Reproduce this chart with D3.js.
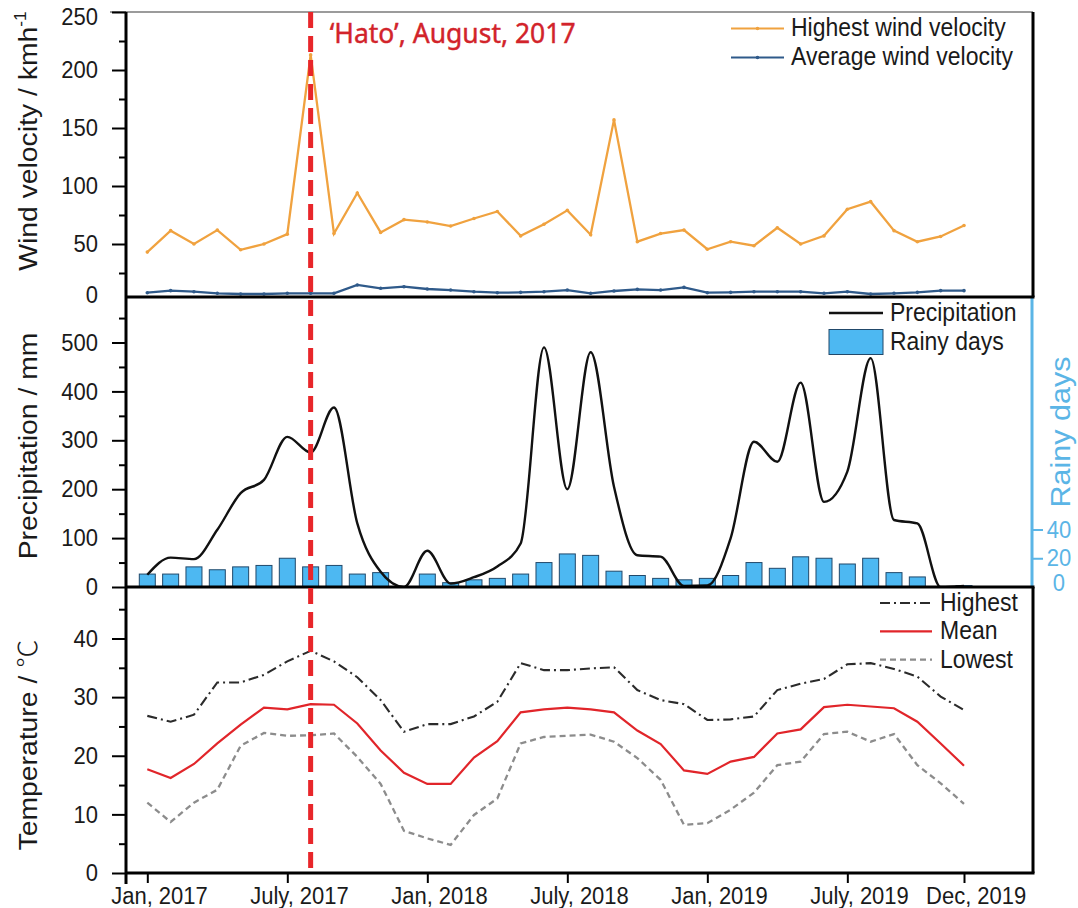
<!DOCTYPE html>
<html>
<head>
<meta charset="utf-8">
<script src="https://cdn.jsdelivr.net/npm/d3@7"></script>
<style>
  html, body { margin: 0; padding: 0; background: #fff; }
  svg { display: block; font-family: "Liberation Sans", Arial, Helvetica, sans-serif; }
</style>
</head>
<body>
<svg id="chart" width="1078" height="908"></svg>
<script>
// ---- Monthly data, Jan 2017 – Dec 2019 (36 months) ----
const monthIndex = d3.range(36);
const tickMonths = [0, 6, 12, 18, 24, 30, 35];
const tickLabels = ["Jan, 2017", "July, 2017", "Jan, 2018", "July, 2018", "Jan, 2019", "July, 2019", "Dec, 2019"];

// wind velocity, km/h
const windHighest = [43, 61.5, 50, 62, 45, 50, 58.5, 213, 59, 94, 60, 71, 69, 65.5, 72, 78, 57, 67, 79, 58,
                     157, 52, 59, 62, 45.5, 52, 48.5, 64, 50, 57, 80, 86.5, 61.5, 52, 56.5, 66];
const windAverage = [8, 9.8, 8.9, 7.5, 6.9, 6.9, 7.5, 7.5, 7.5, 14.7, 11.8, 13.2, 11.2, 10.3, 8.9, 8, 8.3, 8.9, 10.3, 7.5,
                     9.5, 10.9, 10.3, 12.6, 8, 8.3, 8.9, 8.9, 8.9, 7.5, 8.9, 6.9, 7.5, 8.3, 9.8, 9.8];

// precipitation, mm, and number of rainy days
const precipitation = [25, 60, 57, 117, 192, 219, 307, 275, 367, 130, 31, 0, 74, 7, 20, 42, 89, 490, 200, 480,
                       205, 65, 62, 2, 3, 100, 297, 256, 418, 174, 236, 468, 137, 130, 0, 2];
const rainyDays = [9, 9, 14, 12, 14, 15, 20, 14, 15, 9, 10, 0, 9, 3, 5, 6, 9, 17, 23, 22,
                   11, 8, 6, 5, 6, 8, 17, 13, 21, 20, 16, 20, 10, 7, 0, 1];

// temperature, °C
const tempHighest = [26.8, 25.8, 27, 32.5, 32.5, 33.8, 36.1, 37.9, 36.1, 33.4, 29.5, 24.1, 25.4, 25.4, 26.7, 29.2, 35.8, 34.6, 34.6, 34.9,
                     35.1, 31.2, 29.5, 28.8, 26.1, 26.2, 26.7, 31.2, 32.3, 33.1, 35.6, 35.8, 34.8, 33.5, 30.1, 27.8];
const tempMean = [17.7, 16.2, 18.6, 22.1, 25.3, 28.2, 27.9, 28.8, 28.7, 25.5, 20.9, 17.1, 15.2, 15.2, 19.7, 22.5, 27.4, 27.9, 28.2, 27.9,
                  27.4, 24.3, 22, 17.5, 16.9, 19, 19.8, 23.8, 24.5, 28.3, 28.7, 28.4, 28.1, 25.8, 22.1, 18.3];
const tempLowest = [12, 8.7, 12, 14.2, 21.7, 23.9, 23.4, 23.5, 23.8, 19.8, 15.2, 7.2, 5.9, 4.8, 9.9, 12.7, 22.1, 23.2, 23.4, 23.6,
                    22.4, 19.6, 15.9, 8.2, 8.5, 10.8, 13.7, 18.4, 19, 23.7, 24.1, 22.4, 23.7, 18.4, 15.3, 11.8];

// typhoon event marker
const eventMonth = 7;
const eventLabel = "\u2018Hato\u2019, August, 2017";

// ---- layout ----
const svg = d3.select("#chart");
const left = 126, right = 1033;
const topY0 = 12, topY1 = 297, midY1 = 587, botY1 = 873;
const FONT = '"Liberation Sans", Arial, Helvetica, sans-serif';
const TALL = 1.09;   // glyphs are drawn slightly taller than wide

const x = d3.scaleLinear().domain([0, 35]).range([147.3, 964]);
const yWind = d3.scaleLinear().domain([0, 250]).range([302, 12]);
const yPrec = d3.scaleLinear().domain([0, 500]).range([587, 342.5]);
const yRain = d3.scaleLinear().domain([0, 40]).range([587, 529.5]);
const yTemp = d3.scaleLinear().domain([0, 40]).range([873, 638.5]);

const colors = {
  windHigh: "#f0a23f", windAvg: "#2f5a8a",
  precip: "#111", rainFill: "#4db8f2", rainStroke: "#21496b", rainAxis: "#5bb5e6",
  tHigh: "#2b2b2b", tMean: "#e1252a", tLow: "#8c8c8c", event: "#e8262a", eventText: "#d2232a"
};

// stretch horizontal text vertically about its own y attribute
function stretchY(sel) {
  sel.each(function () {
    const t = d3.select(this);
    const yy = +t.attr("y") || 0;
    t.attr("transform", `translate(0,${yy * (1 - TALL)}) scale(1,${TALL})`);
  });
}

// clip regions per panel
const defs = svg.append("defs");
[["clipTop", topY0, topY1], ["clipMid", topY1, midY1], ["clipBot", midY1, botY1]].forEach(([id, y0, y1]) => {
  defs.append("clipPath").attr("id", id).append("rect")
    .attr("x", left).attr("y", y0).attr("width", right - left).attr("height", y1 - y0);
});

// ---- middle panel: rainy-day bars and precipitation curve ----
const gMid = svg.append("g").attr("clip-path", "url(#clipMid)");
const barW = 16;
gMid.selectAll("rect.rain").data(monthIndex.filter(i => rainyDays[i] > 0)).join("rect")
  .attr("class", "rain")
  .attr("x", i => x(i) - barW / 2)
  .attr("y", i => yRain(rainyDays[i]))
  .attr("width", barW)
  .attr("height", i => yRain(0) - yRain(rainyDays[i]))
  .attr("fill", colors.rainFill)
  .attr("stroke", colors.rainStroke)
  .attr("stroke-width", 1);

const precLine = d3.line().x(i => x(i)).y(i => yPrec(precipitation[i])).curve(d3.curveMonotoneX);
gMid.append("path").datum(monthIndex).attr("d", precLine)
  .attr("fill", "none").attr("stroke", colors.precip).attr("stroke-width", 2.4);

// ---- top panel: wind velocity ----
const gTop = svg.append("g").attr("clip-path", "url(#clipTop)");
[[windHighest, colors.windHigh], [windAverage, colors.windAvg]].forEach(([vals, c]) => {
  gTop.append("path").datum(monthIndex)
    .attr("d", d3.line().x(i => x(i)).y(i => yWind(vals[i])))
    .attr("fill", "none").attr("stroke", c).attr("stroke-width", 2.3);
  gTop.selectAll(null).data(monthIndex).join("circle")
    .attr("cx", i => x(i)).attr("cy", i => yWind(vals[i])).attr("r", 1.8).attr("fill", c);
});

// ---- bottom panel: temperature ----
const gBot = svg.append("g").attr("clip-path", "url(#clipBot)");
const tempSeries = [
  { vals: tempHighest, color: colors.tHigh, dash: "10,4,2,4", width: 2.1, label: "Highest" },
  { vals: tempMean, color: colors.tMean, dash: null, width: 2.2, label: "Mean" },
  { vals: tempLowest, color: colors.tLow, dash: "6,4", width: 2.3, label: "Lowest" }
];
tempSeries.forEach(s => {
  gBot.append("path").datum(monthIndex)
    .attr("d", d3.line().x(i => x(i)).y(i => yTemp(s.vals[i])))
    .attr("fill", "none").attr("stroke", s.color).attr("stroke-width", s.width)
    .attr("stroke-dasharray", s.dash);
});

// ---- frames ----
const frame = svg.append("g");
frame.append("line").attr("x1", 110).attr("x2", right).attr("y1", topY0).attr("y2", topY0)
  .attr("stroke", "#7a7a7a").attr("stroke-width", 1.5);
frame.append("line").attr("x1", right).attr("x2", right).attr("y1", topY0).attr("y2", topY1)
  .attr("stroke", "#000").attr("stroke-width", 3);
frame.append("line").attr("x1", right - 1).attr("x2", right - 1).attr("y1", topY1).attr("y2", midY1)
  .attr("stroke", colors.rainAxis).attr("stroke-width", 3);
frame.append("line").attr("x1", right).attr("x2", right).attr("y1", midY1).attr("y2", botY1)
  .attr("stroke", "#000").attr("stroke-width", 3);
[topY1, midY1, botY1].forEach(yy => {
  frame.append("line").attr("x1", left).attr("x2", right + 1.5).attr("y1", yy).attr("y2", yy)
    .attr("stroke", "#000").attr("stroke-width", 3);
});
frame.append("line").attr("x1", left).attr("x2", left).attr("y1", topY0).attr("y2", botY1 + 11)
  .attr("stroke", "#000").attr("stroke-width", 3);

// ---- axes ----
function styleAxis(g, size) {
  g.select(".domain").remove();
  g.selectAll(".tick line").attr("stroke", "#000").attr("stroke-width", 2);
  g.selectAll(".tick text").attr("font-size", size).attr("fill", "#1a1a1a").attr("font-family", FONT);
}
function leftAxis(scale, major, minor) {
  const gMaj = svg.append("g").attr("transform", `translate(${left},0)`)
    .call(d3.axisLeft(scale).tickValues(major).tickSize(14).tickPadding(14).tickFormat(d3.format("d")));
  styleAxis(gMaj, 22);
  const gMin = svg.append("g").attr("transform", `translate(${left},0)`)
    .call(d3.axisLeft(scale).tickValues(minor).tickSize(7).tickFormat(""));
  styleAxis(gMin, 22);
  stretchY(gMaj.selectAll(".tick text"));
  return gMaj;
}
const windAxis = leftAxis(yWind, [0, 50, 100, 150, 200, 250], [25, 75, 125, 175, 225]);
// the zero of the wind panel sits just below the panel edge; the top label sits just under the frame
windAxis.selectAll(".tick").filter(d => d === 0).each(function () {
  d3.select(this).select("line").remove();
  d3.select(this).select("text").attr("dy", "0.0em");
});
windAxis.selectAll(".tick").filter(d => d === 250).select("text").attr("dy", "0.5em");
leftAxis(yPrec, [0, 100, 200, 300, 400, 500], [50, 150, 250, 350, 450, 550]);
leftAxis(yTemp, [0, 10, 20, 30, 40], [5, 15, 25, 35, 45]);

// rainy-days axis on the right
const rainAxis = svg.append("g").attr("transform", `translate(${right},0)`)
  .call(d3.axisRight(yRain).tickValues([0, 20, 40]).tickSize(10).tickPadding(14).tickFormat(d3.format("d")));
rainAxis.select(".domain").remove();
rainAxis.selectAll(".tick line").attr("stroke", colors.rainAxis).attr("stroke-width", 2)
  .attr("opacity", d => d === 0 ? 0 : 1);
rainAxis.selectAll(".tick text").attr("font-size", 22).attr("fill", colors.rainAxis)
  .attr("text-anchor", "middle").attr("x", 26).attr("dy", d => d === 0 ? "0.15em" : "0.32em");
stretchY(rainAxis.selectAll(".tick text"));

// time axis
const halfMonth = (x(1) - x(0)) / 2;
const xAxis = svg.append("g").attr("transform", `translate(0,${botY1})`)
  .call(d3.axisBottom(x).tickValues(tickMonths).tickSize(10).tickPadding(4)
    .tickFormat((d, i) => tickLabels[i]));
styleAxis(xAxis, 22);
xAxis.selectAll(".tick text").attr("dx", halfMonth);
stretchY(xAxis.selectAll(".tick text"));

// ---- event marker ----
svg.append("line")
  .attr("x1", x(eventMonth)).attr("x2", x(eventMonth))
  .attr("y1", topY0).attr("y2", botY1)
  .attr("stroke", colors.event).attr("stroke-width", 5).attr("stroke-dasharray", "16,8");
svg.append("text").attr("x", x(eventMonth) + 19).attr("y", 43)
  .attr("font-family", '"Noto Sans", "Open Sans", sans-serif').attr("font-size", 26.5)
  .attr("fill", colors.eventText).attr("stroke", colors.eventText).attr("stroke-width", 0.4)
  .text(eventLabel);

// ---- axis titles ----
function yTitle(xPos, yPos, color, size) {
  return svg.append("text").attr("transform", `translate(${xPos},${yPos}) rotate(-90) scale(${TALL},1)`)
    .attr("text-anchor", "middle").attr("font-size", size).attr("fill", color).attr("font-family", FONT);
}
const wt = yTitle(37, 141, "#1a1a1a", 26);
wt.append("tspan").text("Wind velocity / kmh");
wt.append("tspan").attr("font-size", 16).attr("dy", -11).text("-1");
yTitle(37, 446, "#1a1a1a", 26).text("Precipitation / mm");
const tt = yTitle(37, 745, "#1a1a1a", 26);
tt.append("tspan").text("Temperature / ");
tt.append("tspan").attr("font-family", '"Noto Sans CJK SC", sans-serif').attr("font-weight", 300).text("\u2103");
yTitle(1070, 432, colors.rainAxis, 28).text("Rainy days");

// ---- legends ----
function legendText(xPos, yPos, label) {
  const t = svg.append("text").attr("x", xPos).attr("y", yPos + 8)
    .attr("font-size", 23).attr("fill", "#1a1a1a").attr("font-family", FONT).text(label);
  stretchY(t);
}
const windLegend = [
  { label: "Highest wind velocity", color: colors.windHigh, y: 28.5 },
  { label: "Average wind velocity", color: colors.windAvg, y: 57.5 }
];
windLegend.forEach(d => {
  svg.append("line").attr("x1", 731).attr("x2", 784).attr("y1", d.y).attr("y2", d.y)
    .attr("stroke", d.color).attr("stroke-width", 2);
  svg.append("circle").attr("cx", 757.5).attr("cy", d.y).attr("r", 1.8).attr("fill", d.color);
  legendText(791, d.y, d.label);
});

svg.append("line").attr("x1", 829).attr("x2", 883).attr("y1", 313).attr("y2", 313)
  .attr("stroke", colors.precip).attr("stroke-width", 2.4);
legendText(890, 313, "Precipitation");
svg.append("rect").attr("x", 829).attr("y", 329.5).attr("width", 54).attr("height", 25)
  .attr("fill", colors.rainFill).attr("stroke", colors.rainStroke).attr("stroke-width", 1);
legendText(890, 342, "Rainy days");

tempSeries.forEach((s, k) => {
  const ly = 603 + k * 28.3;
  svg.append("line").attr("x1", 880).attr("x2", 932).attr("y1", ly).attr("y2", ly)
    .attr("stroke", s.color).attr("stroke-width", s.width).attr("stroke-dasharray", s.dash);
  legendText(940, ly, s.label);
});
</script>
</body>
</html>
